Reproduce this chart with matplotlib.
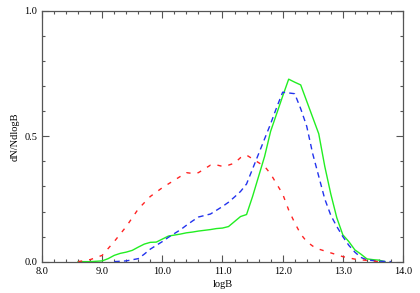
import numpy as np
import matplotlib
matplotlib.use('Agg')
import matplotlib.pyplot as plt
from matplotlib.ticker import MultipleLocator, FixedLocator

# green (solid)
x_green = [8.6, 8.8, 9.0, 9.1, 9.2, 9.3, 9.4, 9.5, 9.6, 9.7, 9.8, 9.9, 10.0, 10.1, 10.2,
           10.3, 10.4, 10.5, 10.6, 10.7, 10.8, 10.9, 11.0, 11.1, 11.2, 11.3, 11.4, 11.5,
           11.6, 11.7, 11.8, 11.9, 12.0, 12.1, 12.2, 12.3, 12.4, 12.5, 12.6, 12.7, 12.8,
           12.9, 13.0, 13.1, 13.2, 13.3, 13.4, 13.5, 13.6, 13.7]
y_green = [0.0, 0.0, 0.003, 0.012, 0.025, 0.033, 0.038, 0.045, 0.058, 0.07, 0.077, 0.078,
           0.09, 0.102, 0.106, 0.110, 0.115, 0.118, 0.122, 0.125, 0.128, 0.132, 0.134,
           0.140, 0.160, 0.180, 0.188, 0.26, 0.34, 0.42, 0.52, 0.59, 0.66, 0.728, 0.716,
           0.705, 0.64, 0.575, 0.51, 0.38, 0.27, 0.175, 0.107, 0.08, 0.047, 0.03, 0.011,
           0.008, 0.006, 0.0]

# blue (dashed)
x_blue = [9.2, 9.4, 9.6, 9.7, 9.8, 9.9, 10.0, 10.1, 10.2, 10.3, 10.4, 10.5, 10.6, 10.7,
          10.8, 10.9, 11.0, 11.1, 11.2, 11.3, 11.4, 11.5, 11.6, 11.7, 11.8, 11.9, 12.0,
          12.1, 12.2, 12.3, 12.4, 12.5, 12.6, 12.7, 12.8, 12.9, 13.0, 13.1, 13.2, 13.3,
          13.4, 13.6, 13.8]
y_blue = [0.0, 0.003, 0.012, 0.03, 0.05, 0.065, 0.08, 0.097, 0.112, 0.127, 0.145, 0.162,
          0.178, 0.184, 0.19, 0.205, 0.22, 0.237, 0.258, 0.28, 0.31, 0.37, 0.43, 0.49,
          0.55, 0.615, 0.676, 0.673, 0.67, 0.61, 0.54, 0.43, 0.34, 0.25, 0.185, 0.14,
          0.10, 0.065, 0.038, 0.017, 0.007, 0.002, 0.0]

# red (dashed)
x_red = [8.6, 8.8, 9.0, 9.2, 9.4, 9.6, 9.8, 10.0, 10.2, 10.4, 10.5, 10.6, 10.7, 10.8,
         10.9, 11.0, 11.1, 11.2, 11.3, 11.4, 11.5, 11.6, 11.7, 11.8, 11.9, 12.0, 12.1,
         12.2, 12.3, 12.4, 12.5, 12.6, 12.8, 13.0, 13.2, 13.4, 13.6]
y_red = [0.0, 0.008, 0.025, 0.08, 0.14, 0.21, 0.26, 0.295, 0.325, 0.355, 0.352, 0.355,
         0.37, 0.385, 0.386, 0.38, 0.385, 0.393, 0.415, 0.425, 0.41, 0.395, 0.38, 0.35,
         0.31, 0.27, 0.206, 0.155, 0.11, 0.08, 0.062, 0.05, 0.035, 0.02, 0.01, 0.005, 0.0]

plt.rcParams['font.family'] = ['Liberation Serif', 'DejaVu Serif']

fig = plt.figure(figsize=(4.2, 2.93), dpi=100)
ax = fig.add_axes([0.1, 0.107, 0.8595, 0.8555])

ax.plot(x_green, y_green, color='#22ee22', lw=1.0)
ax.plot(x_blue, y_blue, color='#2233ee', lw=1.0, dashes=(4, 3))
ax.plot(x_red, y_red, color='#ff2222', lw=1.0, dashes=(3, 5))

ax.set_xlim(8.0, 14.0)
ax.set_ylim(0.0, 1.0)
ax.xaxis.set_major_locator(MultipleLocator(1.0))
ax.xaxis.set_minor_locator(MultipleLocator(0.2))
ax.xaxis.set_major_formatter(plt.FormatStrFormatter('%.1f'))
ax.yaxis.set_major_locator(FixedLocator([0.0, 0.5, 1.0]))
ax.yaxis.set_major_formatter(plt.FormatStrFormatter('%.1f'))
ax.yaxis.set_minor_locator(MultipleLocator(0.1))

ax.tick_params(which='both', direction='in', top=True, right=True,
               labelsize=7.5, color='#555555', width=0.8)
ax.tick_params(which='major', length=5)
ax.tick_params(which='minor', length=2.5)
for s in ax.spines.values():
    s.set_color('#555555')
    s.set_linewidth(0.9)

ax.set_xlabel('logB', fontsize=7.5, labelpad=3)
ax.set_ylabel('dN/NdlogB', fontsize=7.5, labelpad=3)

fig.savefig('out.png', dpi=100)
